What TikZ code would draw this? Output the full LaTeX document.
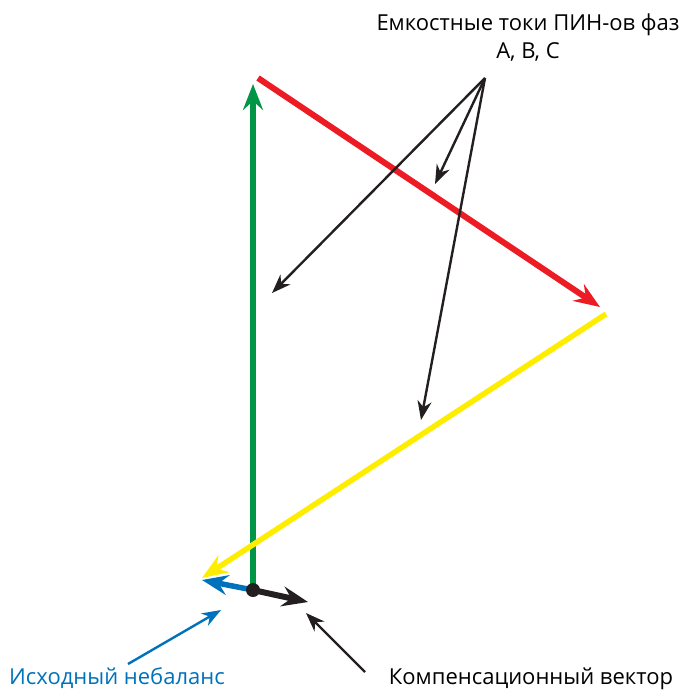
\documentclass[tikz,border=0pt]{standalone}
\usepackage{fontspec}
\setmainfont{Open Sans}
\usetikzlibrary{%
	arrows.meta,%
	positioning,%
}
\definecolor{cgreen}{RGB}{0, 150, 70}
\definecolor{cred}{RGB}{237, 28, 36}
\definecolor{cyellow}{RGB}{255, 237, 0}
\definecolor{cblue}{RGB}{0, 114, 188}
\definecolor{cblack}{RGB}{35, 31, 32}
\tikzset{
	>={Stealth[length=26pt, width=20pt, inset=9pt]},%
	nodes={align=center},%
	vect/.style={%
			->,%
			line width=6pt},%
	pointer/.style={%
			-{Stealth[length=19pt, width=14pt, inset=6pt]},%
			line width=2.4pt},%
	caption/.style={%
			font={\fontsize{22}{28}\selectfont},%
			inner sep=0pt},%
}

\begin{document}
\begin{tikzpicture}[x=1pt, y=-1pt]%
	\useasboundingbox (0,0) rectangle (692,689);

	\coordinate (o) at (253,590);
	\coordinate (ga) at (253,84);
	\coordinate (rs) at (258,78);
	\coordinate (re) at (600,307);
	\coordinate (ys) at (606,314);
	\coordinate (ye) at (202,578);
	\coordinate (be) at (202,580);
	\coordinate (ke) at (308,602);
	\coordinate (hub) at (485,78);

	\node[caption, anchor=north] (cap) at (528,14) {Емкостные токи ПИН-ов фаз\\А, B, C};
	\node[caption, anchor=base, text=cblue] (nb) at (117,684) {Исходный небаланс};
	\node[caption, anchor=base] (kv) at (531,684) {Компенсационный вектор};

	\draw[vect, cgreen] (o) to (ga);
	\draw[vect, cred] (rs) to (re);
	\draw[vect, cyellow, line width=5.5pt] (ys) to (ye);
	\draw[vect, cblue, line width=5.5pt] (o) to (be);
	\draw[vect, cblack] (o) to (ke);
	\fill[cblack] (o) circle (7pt);

	\draw[pointer, cblack] (hub) to (435,184);
	\draw[pointer, cblack] (hub) to (272,293);
	\draw[pointer, cblack] (hub) to (421,420);
	\draw[pointer, cblue] (128,664) to (221,610);
	\draw[pointer, cblack] (365,672) to (306,613);
\end{tikzpicture}
\end{document}
